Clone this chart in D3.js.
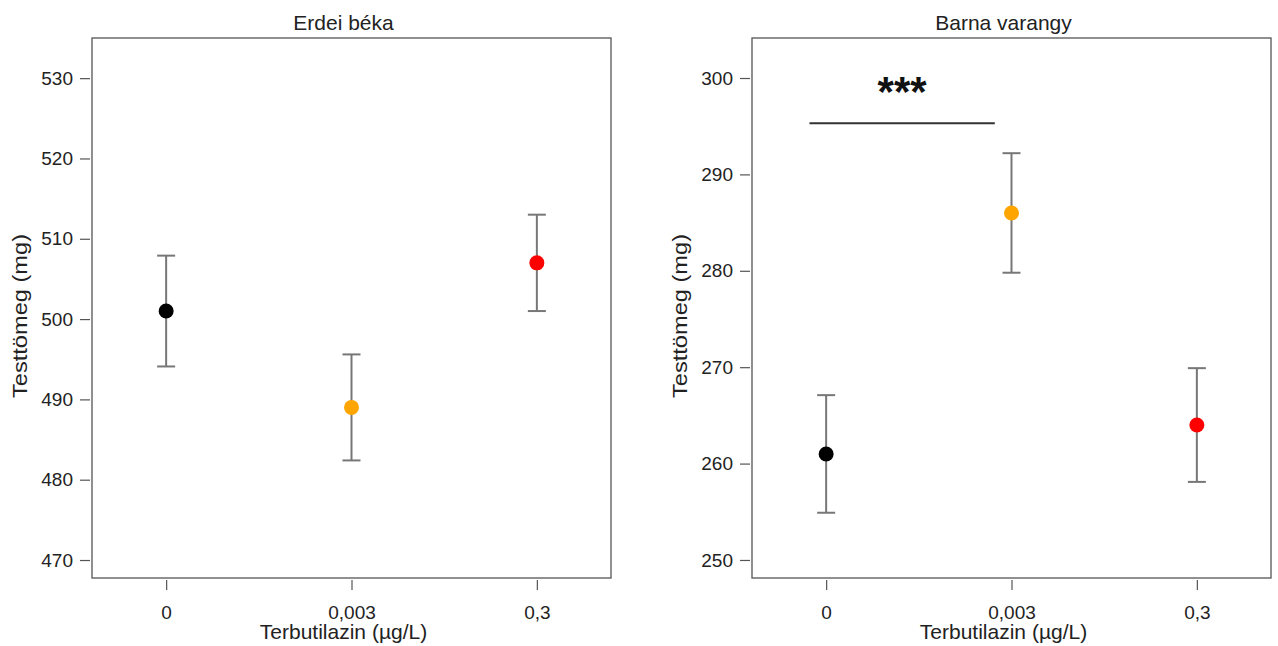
<!DOCTYPE html>
<html>
<head>
<meta charset="utf-8">
<script src="https://cdn.jsdelivr.net/npm/d3@7"></script>
<style>
  body { margin: 0; background: #fff; }
  svg { font-family: "Liberation Sans", Arial, sans-serif; }
</style>
</head>
<body>
<div class="wrapper"></div>
<script>
width = 1278;
height = 646;

categories = ["0", "0,003", "0,3"];
colors = ["#000000", "#ffa500", "#ff0000"];

// Erdei béka
frogMean = [501, 489, 507];
frogLow = [494.1, 482.4, 501.0];
frogHigh = [507.9, 495.6, 513.0];
frogTicks = [470, 480, 490, 500, 510, 520, 530];

// Barna varangy
toadMean = [261, 286, 264];
toadLow = [254.9, 279.8, 258.1];
toadHigh = [267.1, 292.2, 269.9];
toadTicks = [250, 260, 270, 280, 290, 300];

svg = d3.select(".wrapper")
  .append("svg")
  .attr("width", width)
  .attr("height", height);

function drawPanel(left, title, mean, low, high, ticks, yDomain, sig) {
  var w = 519, top = 38, bottom = 578;
  var g = svg.append("g");

  var x = d3.scaleLinear().domain([0.6, 3.4]).range([left, left + w]);
  var y = d3.scaleLinear().domain(yDomain).range([bottom, top]);

  // box
  g.append("rect")
    .attr("x", left).attr("y", top)
    .attr("width", w).attr("height", bottom - top)
    .attr("fill", "none")
    .attr("stroke", "#555").attr("stroke-width", 1.3);

  // y axis
  var ya = g.append("g")
    .attr("transform", "translate(" + (left - 2) + ",0)")
    .call(d3.axisLeft(y).tickValues(ticks).tickSize(10).tickPadding(7).tickFormat(d3.format("d")));
  ya.select(".domain").remove();
  ya.selectAll("line").attr("stroke", "#555").attr("stroke-width", 1.2);
  ya.selectAll("text").attr("font-size", 19).attr("fill", "#222").style("font-family", "Liberation Sans, Arial, sans-serif");

  // x axis
  var xa = g.append("g")
    .attr("transform", "translate(0," + (bottom + 2) + ")")
    .call(d3.axisBottom(x).tickValues([1, 2, 3]).tickSize(10).tickPadding(16)
      .tickFormat(function (d) { return categories[d - 1]; }));
  xa.select(".domain").remove();
  xa.selectAll("line").attr("stroke", "#555").attr("stroke-width", 1.2);
  xa.selectAll("text").attr("font-size", 19).attr("fill", "#222").style("font-family", "Liberation Sans, Arial, sans-serif");

  // titles
  g.append("text")
    .attr("x", left + w / 2 - 8).attr("y", 30)
    .attr("text-anchor", "middle").attr("font-size", 21).attr("fill", "#222")
    .text(title);
  g.append("text")
    .attr("x", left + w / 2 - 8).attr("y", 639)
    .attr("text-anchor", "middle").attr("font-size", 21).attr("fill", "#222")
    .text("Terbutilazin (µg/L)");
  g.append("text")
    .attr("transform", "translate(" + (left - 65) + ",316) rotate(-90)")
    .attr("text-anchor", "middle").attr("font-size", 21).attr("fill", "#222")
    .attr("textLength", 164).attr("lengthAdjust", "spacingAndGlyphs")
    .text("Testtömeg (mg)");

  var idx = d3.range(mean.length);

  // error bars
  var eb = g.selectAll(".err").data(idx).enter().append("g")
    .attr("stroke", "#777").attr("stroke-width", 2);
  eb.append("line")
    .attr("x1", function (i) { return x(i + 1); }).attr("x2", function (i) { return x(i + 1); })
    .attr("y1", function (i) { return y(low[i]); }).attr("y2", function (i) { return y(high[i]); });
  eb.append("line")
    .attr("x1", function (i) { return x(i + 1) - 9; }).attr("x2", function (i) { return x(i + 1) + 9; })
    .attr("y1", function (i) { return y(high[i]); }).attr("y2", function (i) { return y(high[i]); });
  eb.append("line")
    .attr("x1", function (i) { return x(i + 1) - 9; }).attr("x2", function (i) { return x(i + 1) + 9; })
    .attr("y1", function (i) { return y(low[i]); }).attr("y2", function (i) { return y(low[i]); });

  // points
  g.selectAll(".pt").data(idx).enter().append("circle")
    .attr("cx", function (i) { return x(i + 1); })
    .attr("cy", function (i) { return y(mean[i]); })
    .attr("r", 7.5)
    .attr("fill", function (i) { return colors[i]; });

  // significance marker
  if (sig) {
    g.append("line")
      .attr("x1", x(sig.from)).attr("x2", x(sig.to))
      .attr("y1", y(sig.level)).attr("y2", y(sig.level))
      .attr("stroke", "#333").attr("stroke-width", 2);
    g.append("text")
      .attr("x", x((sig.from + sig.to) / 2)).attr("y", y(sig.level) - 17)
      .attr("text-anchor", "middle").attr("font-size", 42).attr("font-weight", "bold").attr("fill", "#111")
      .text(sig.label);
  }
}

drawPanel(92, "Erdei béka", frogMean, frogLow, frogHigh, frogTicks, [467.76, 535], null);
drawPanel(752, "Barna varangy", toadMean, toadLow, toadHigh, toadTicks, [248.13, 304.15],
  { from: 0.91, to: 1.91, level: 295.3, label: "***" });
</script>
</body>
</html>
